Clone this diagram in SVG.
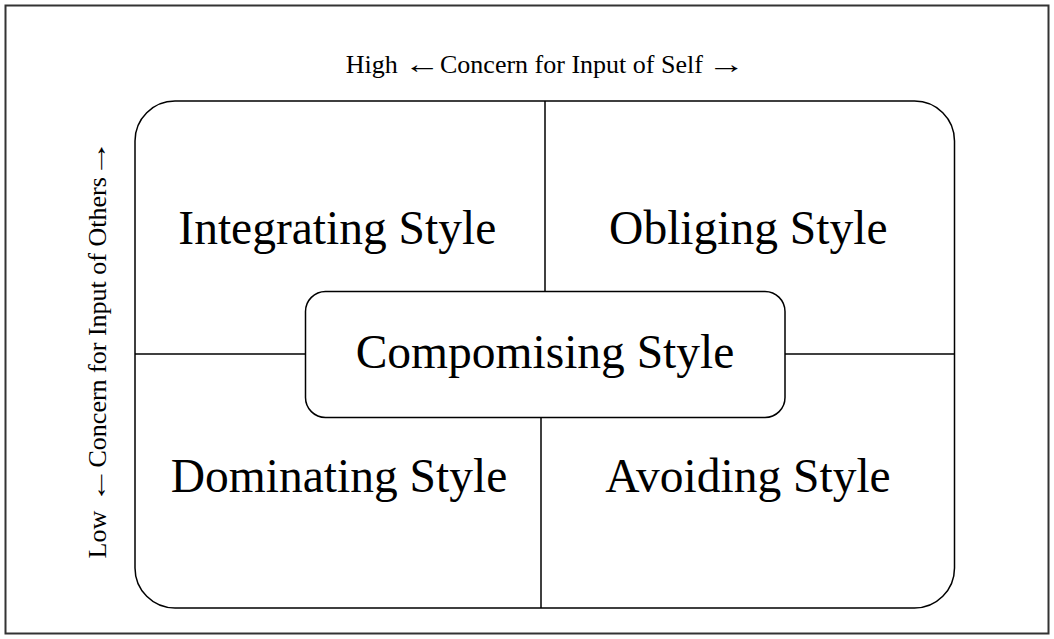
<svg xmlns="http://www.w3.org/2000/svg" width="1054" height="639" viewBox="0 0 1054 639">
  <style>
    .frame { fill: none; stroke: #333; stroke-width: 2; }
    .box { fill: #fff; stroke: #000; stroke-width: 1.5; }
    .line { stroke: #000; stroke-width: 1.5; fill: none; }
    .big { font-family: "Liberation Serif", "Times New Roman", serif; font-size: 47.5px; fill: #000; text-anchor: middle; }
    .axis { font-family: "Liberation Serif", "Times New Roman", serif; font-size: 26px; fill: #000; }
    .arrow { text-anchor: middle; }
  </style>
  <rect width="1054" height="639" fill="#fff"/>
  <rect class="frame" x="5.5" y="5.5" width="1043" height="628"/>

  <!-- horizontal axis label: words plus widened arrow glyphs -->
  <g id="axis-self" class="axis">
    <text x="345.7" y="73">High</text>
    <text class="arrow" transform="translate(422.5 73) scale(1.4 1)">←</text>
    <text x="440" y="73">Concern for Input of Self</text>
    <text class="arrow" transform="translate(726.7 73) scale(1.45 1)">→</text>
  </g>

  <!-- vertical axis label, reading bottom to top -->
  <g id="axis-others" class="axis" transform="translate(106 558.5) rotate(-90)">
    <text x="0" y="0">Low</text>
    <text class="arrow" transform="translate(73.5 0) scale(1.4 1)">←</text>
    <text x="91" y="0">Concern for Input of Others</text>
    <text class="arrow" transform="translate(400.3 0) scale(1.45 1)">→</text>
  </g>

  <!-- outer quadrant frame -->
  <g id="grid">
    <rect class="box" x="135" y="101" width="819.5" height="507" rx="40" ry="40"/>
  </g>

  <!-- dividing lines -->
  <g id="connectors">
    <line class="line" x1="545" y1="101" x2="545" y2="292"/>
    <line class="line" x1="541" y1="417" x2="541" y2="608"/>
    <line class="line" x1="135" y1="354" x2="306" y2="354"/>
    <line class="line" x1="785" y1="354" x2="954.5" y2="354"/>
  </g>

  <g id="integrating">
    <text class="big" x="337.3" y="244">Integrating Style</text>
  </g>
  <g id="obliging">
    <text class="big" x="748.3" y="244">Obliging Style</text>
  </g>
  <g id="dominating">
    <text class="big" x="339" y="492">Dominating Style</text>
  </g>
  <g id="avoiding">
    <text class="big" x="748" y="492">Avoiding Style</text>
  </g>
  <g id="compromising">
    <rect class="box" x="305.5" y="291.5" width="479.5" height="126" rx="20" ry="20"/>
    <text class="big" x="545" y="368.3">Compomising Style</text>
  </g>
</svg>
